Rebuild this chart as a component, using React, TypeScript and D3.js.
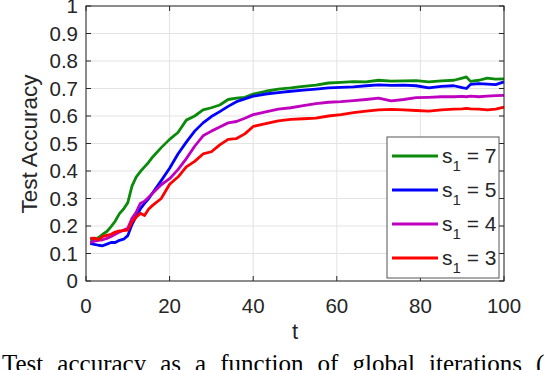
import React from "react";
import * as d3 from "d3";

const tValues = [1,2,3,4,5,6,7,8,9,10,11,12,13,14,15,16,18,20,22,24,26,28,30,32,34,36,38,40,43,46,49,52,55,58,61,64,67,70,73,76,79,82,85,88,90,91,92,94,96,98,100];

const s7 = [0.150,0.152,0.158,0.170,0.180,0.198,0.218,0.245,0.262,0.285,0.345,0.378,0.398,0.415,0.432,0.452,0.485,0.515,0.540,0.585,0.600,0.622,0.630,0.640,0.660,0.665,0.668,0.680,0.690,0.698,0.702,0.708,0.712,0.720,0.722,0.725,0.724,0.730,0.727,0.728,0.729,0.724,0.728,0.730,0.738,0.742,0.726,0.730,0.738,0.734,0.735];
const s5 = [0.137,0.133,0.130,0.128,0.134,0.140,0.140,0.148,0.152,0.165,0.205,0.235,0.262,0.282,0.300,0.322,0.365,0.410,0.462,0.505,0.545,0.575,0.598,0.616,0.635,0.652,0.662,0.672,0.680,0.685,0.690,0.694,0.698,0.702,0.704,0.706,0.710,0.713,0.711,0.712,0.710,0.702,0.708,0.710,0.703,0.700,0.715,0.718,0.716,0.714,0.724];
const s4 = [0.140,0.145,0.148,0.150,0.155,0.162,0.170,0.178,0.185,0.192,0.228,0.250,0.282,0.290,0.305,0.320,0.350,0.372,0.405,0.445,0.490,0.528,0.545,0.560,0.575,0.580,0.592,0.605,0.615,0.625,0.630,0.638,0.645,0.650,0.652,0.656,0.660,0.665,0.655,0.660,0.667,0.668,0.670,0.670,0.671,0.670,0.672,0.670,0.672,0.674,0.675];
const s3 = [0.155,0.156,0.150,0.162,0.166,0.170,0.178,0.182,0.183,0.185,0.215,0.232,0.246,0.238,0.262,0.276,0.300,0.352,0.378,0.415,0.435,0.462,0.470,0.495,0.515,0.518,0.535,0.562,0.572,0.582,0.588,0.590,0.592,0.600,0.605,0.612,0.618,0.622,0.624,0.622,0.620,0.618,0.622,0.625,0.626,0.628,0.626,0.625,0.622,0.625,0.632];

const seriesLabels = ["7", "5", "4", "3"];
const seriesColors = ["#0b8a0b", "#0000ff", "#bf00bf", "#ff0000"];
const seriesValues = [s7, s5, s4, s3];

const xTicks = [0, 20, 40, 60, 80, 100];
const yTicks = [0, 0.1, 0.2, 0.3, 0.4, 0.5, 0.6, 0.7, 0.8, 0.9, 1];
const xLabel = "t";
const yLabel = "Test Accuracy";
const caption = "Test accuracy as a function of global iterations (";

export default function App() {
  const W = 554, H = 370;
  const left = 86, right = 504, top = 6, bottom = 281;
  const x = d3.scaleLinear().domain([0, 100]).range([left, right]);
  const y = d3.scaleLinear().domain([0, 1]).range([bottom, top]);
  const line = d3.line<[number, number]>().x(d => x(d[0])).y(d => y(d[1]));
  const sans = "'Liberation Sans', Arial, Helvetica, sans-serif";
  const axisColor = "#262626";
  const tickLen = 5;
  const yFmt = (v: number) => (v === 0 || v === 1 ? String(v) : v.toFixed(1));

  const legX = 387, legY = 137, legW = 112, legH = 141;
  const legRows = [156, 190, 224, 258];

  return (
    <svg width={W} height={H} style={{ position: "absolute", left: 0, top: 0, background: "#fff" }}>
      <rect x={0} y={0} width={W} height={H} fill="#fff" />
      {/* grid */}
      {xTicks.map(t => (
        <line key={"gx" + t} x1={x(t)} x2={x(t)} y1={top} y2={bottom} stroke="#e3e3e3" strokeWidth={1} />
      ))}
      {yTicks.map(t => (
        <line key={"gy" + t} x1={left} x2={right} y1={y(t)} y2={y(t)} stroke="#e3e3e3" strokeWidth={1} />
      ))}
      {/* lines */}
      {seriesValues.map((vals, i) => (
        <path
          key={"s" + i}
          d={line(tValues.map((t, j) => [t, vals[j]] as [number, number])) || ""}
          fill="none"
          stroke={seriesColors[i]}
          strokeWidth={2.8}
          strokeLinejoin="round"
        />
      ))}
      {/* axes box */}
      <rect x={left} y={top} width={right - left} height={bottom - top} fill="none" stroke={axisColor} strokeWidth={1} />
      {xTicks.map(t => (
        <g key={"xt" + t}>
          <line x1={x(t)} x2={x(t)} y1={bottom} y2={bottom - tickLen} stroke={axisColor} />
          <line x1={x(t)} x2={x(t)} y1={top} y2={top + tickLen} stroke={axisColor} />
          <text x={x(t)} y={313} textAnchor="middle" fontFamily={sans} fontSize={20.5} fill={axisColor}>{t}</text>
        </g>
      ))}
      {yTicks.map(t => (
        <g key={"yt" + t}>
          <line x1={left} x2={left + tickLen} y1={y(t)} y2={y(t)} stroke={axisColor} />
          <line x1={right} x2={right - tickLen} y1={y(t)} y2={y(t)} stroke={axisColor} />
          <text x={78} y={y(t)} dy="0.36em" textAnchor="end" fontFamily={sans} fontSize={20.5} fill={axisColor}>{yFmt(t)}</text>
        </g>
      ))}
      <text x={(left + right) / 2} y={339} textAnchor="middle" fontFamily={sans} fontSize={22} fill={axisColor}>{xLabel}</text>
      <text transform={`translate(37,144) rotate(-90)`} textAnchor="middle" fontFamily={sans} fontSize={22.5} fill={axisColor}>{yLabel}</text>
      {/* legend */}
      <rect x={legX} y={legY} width={legW} height={legH} fill="#fff" stroke="#555" strokeWidth={1} />
      {seriesLabels.map((lab, i) => (
        <g key={"lg" + i}>
          <line x1={392} x2={438} y1={legRows[i]} y2={legRows[i]} stroke={seriesColors[i]} strokeWidth={2.8} />
          <text x={442} y={legRows[i] + 7} fontFamily={sans} fontSize={21} fill={axisColor}>
            s
            <tspan fontSize={15} dy={8}>1</tspan>
            <tspan dy={-8}> = {lab}</tspan>
          </text>
        </g>
      ))}
      {/* caption */}
      <text x={2} y={372} fontFamily="'Liberation Serif', 'Times New Roman', serif" fontSize={25} wordSpacing={7.8} fill="#000">{caption}</text>
    </svg>
  );
}
